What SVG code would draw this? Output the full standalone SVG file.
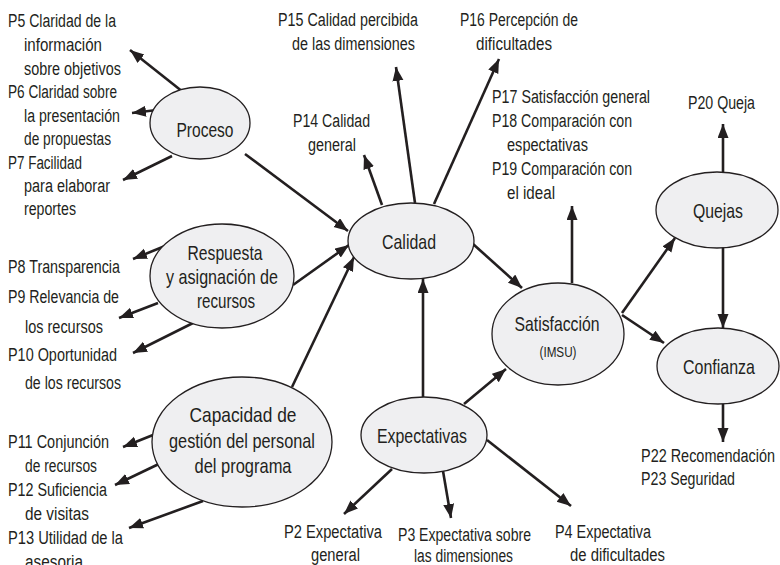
<svg xmlns="http://www.w3.org/2000/svg" width="780" height="565" viewBox="0 0 780 565">
<defs>
<marker id="ah" markerUnits="userSpaceOnUse" markerWidth="15" markerHeight="12" refX="14" refY="5.5" orient="auto">
<path d="M0,0 L14,5.5 L0,11 Z" fill="#231f20"/>
</marker>
<style>
.n ellipse{fill:#efeff1;stroke:#231f20;stroke-width:1.3}
.n text{font-family:"Liberation Sans",Arial,sans-serif;font-size:21px;fill:#231f20;text-anchor:middle}
.c line{stroke:#231f20;stroke-width:2.6;marker-end:url(#ah)}
.l{font-family:"Liberation Sans",Arial,sans-serif;font-size:18px;fill:#231f20}
</style>
</defs>
<rect width="780" height="565" fill="#fff"/>
<g class="c" id="connectors">
<line x1="183" y1="92" x2="130" y2="50"/>
<line x1="157" y1="110" x2="132" y2="113"/>
<line x1="172" y1="156" x2="123" y2="180"/>
<line x1="245" y1="154" x2="348" y2="231"/>
<line x1="165" y1="246" x2="133" y2="259"/>
<line x1="158" y1="303" x2="119" y2="318"/>
<line x1="193" y1="323" x2="133" y2="353"/>
<line x1="293" y1="285" x2="349" y2="245"/>
<line x1="292" y1="387" x2="354" y2="257"/>
<line x1="153" y1="435" x2="123" y2="447"/>
<line x1="163" y1="462" x2="115" y2="485"/>
<line x1="203" y1="501" x2="129" y2="528"/>
<line x1="382" y1="205" x2="364" y2="155"/>
<line x1="415" y1="203" x2="396" y2="67"/>
<line x1="434" y1="204" x2="499" y2="59"/>
<line x1="473" y1="244" x2="522" y2="288"/>
<line x1="423" y1="397" x2="423" y2="279"/>
<line x1="464" y1="404" x2="506" y2="369"/>
<line x1="392" y1="469" x2="344" y2="514"/>
<line x1="443" y1="471" x2="451" y2="518"/>
<line x1="487" y1="440" x2="571" y2="506"/>
<line x1="572" y1="283" x2="572" y2="206"/>
<line x1="622" y1="313" x2="675" y2="238"/>
<line x1="622" y1="315" x2="664" y2="343"/>
<line x1="723" y1="172" x2="723" y2="124"/>
<line x1="723" y1="247" x2="723" y2="328"/>
<line x1="723" y1="404" x2="723" y2="442"/>
</g>
<g class="n" id="proceso"><ellipse cx="200" cy="123" rx="50" ry="36"/><text x="205" y="137" textLength="57" lengthAdjust="spacingAndGlyphs">Proceso</text></g>
<g class="n" id="respuesta"><ellipse cx="222" cy="276" rx="72" ry="52"/><text x="225" y="260" textLength="75" lengthAdjust="spacingAndGlyphs">Respuesta</text><text x="222" y="284" textLength="112" lengthAdjust="spacingAndGlyphs">y asignación de</text><text x="226" y="308" textLength="58" lengthAdjust="spacingAndGlyphs">recursos</text></g>
<g class="n" id="capacidad"><ellipse cx="242" cy="442" rx="90" ry="65"/><text x="243" y="422" textLength="107" lengthAdjust="spacingAndGlyphs">Capacidad de</text><text x="242" y="448" textLength="146" lengthAdjust="spacingAndGlyphs">gestión del personal</text><text x="243" y="473" textLength="97" lengthAdjust="spacingAndGlyphs">del programa</text></g>
<g class="n" id="calidad"><ellipse cx="411" cy="241" rx="63" ry="38"/><text x="409" y="249" textLength="54" lengthAdjust="spacingAndGlyphs">Calidad</text></g>
<g class="n" id="expectativas"><ellipse cx="424" cy="435" rx="63" ry="38"/><text x="422" y="443" textLength="90" lengthAdjust="spacingAndGlyphs">Expectativas</text></g>
<g class="n" id="satisfaccion"><ellipse cx="558" cy="334" rx="66" ry="51"/><text x="557" y="331" textLength="85" lengthAdjust="spacingAndGlyphs">Satisfacción</text><text x="558" y="357" style="font-size:15px" textLength="37" lengthAdjust="spacingAndGlyphs">(IMSU)</text></g>
<g class="n" id="quejas"><ellipse cx="717" cy="210" rx="61" ry="38"/><text x="718" y="218" textLength="50" lengthAdjust="spacingAndGlyphs">Quejas</text></g>
<g class="n" id="confianza"><ellipse cx="718" cy="366" rx="61" ry="38"/><text x="719" y="374" textLength="72" lengthAdjust="spacingAndGlyphs">Confianza</text></g>
<g id="labels" class="l" xml:space="preserve">
<text x="8" y="27" textLength="108" lengthAdjust="spacingAndGlyphs">P5 Claridad de la</text>
<text x="24" y="51" textLength="78" lengthAdjust="spacingAndGlyphs">información</text>
<text x="24" y="75" textLength="97" lengthAdjust="spacingAndGlyphs">sobre objetivos</text>
<text x="8" y="98" textLength="109" lengthAdjust="spacingAndGlyphs">P6 Claridad sobre</text>
<text x="24" y="122" textLength="96" lengthAdjust="spacingAndGlyphs">la presentación</text>
<text x="24" y="145" textLength="87" lengthAdjust="spacingAndGlyphs">de propuestas</text>
<text x="8" y="169" textLength="74" lengthAdjust="spacingAndGlyphs">P7 Facilidad</text>
<text x="24" y="192" textLength="86" lengthAdjust="spacingAndGlyphs">para  elaborar</text>
<text x="24" y="215" textLength="52" lengthAdjust="spacingAndGlyphs">reportes</text>
<text x="278" y="26" textLength="140" lengthAdjust="spacingAndGlyphs">P15 Calidad percibida</text>
<text x="292" y="50" textLength="123" lengthAdjust="spacingAndGlyphs">de las dimensiones</text>
<text x="460" y="26" textLength="118" lengthAdjust="spacingAndGlyphs">P16 Percepción de</text>
<text x="476" y="50" textLength="76" lengthAdjust="spacingAndGlyphs">dificultades</text>
<text x="293" y="127" textLength="77" lengthAdjust="spacingAndGlyphs">P14 Calidad</text>
<text x="308" y="151" textLength="48" lengthAdjust="spacingAndGlyphs">general</text>
<text x="492" y="103" textLength="158" lengthAdjust="spacingAndGlyphs">P17 Satisfacción general</text>
<text x="492" y="127" textLength="140" lengthAdjust="spacingAndGlyphs">P18 Comparación con</text>
<text x="507" y="151" textLength="81" lengthAdjust="spacingAndGlyphs">espectativas</text>
<text x="492" y="175" textLength="140" lengthAdjust="spacingAndGlyphs">P19 Comparación con</text>
<text x="507" y="199" textLength="48" lengthAdjust="spacingAndGlyphs">el ideal</text>
<text x="688" y="109" textLength="67" lengthAdjust="spacingAndGlyphs">P20 Queja</text>
<text x="8" y="273" textLength="112" lengthAdjust="spacingAndGlyphs">P8 Transparencia</text>
<text x="8" y="303" textLength="111" lengthAdjust="spacingAndGlyphs">P9 Relevancia de</text>
<text x="25" y="333" textLength="78" lengthAdjust="spacingAndGlyphs">los recursos</text>
<text x="8" y="361" textLength="109" lengthAdjust="spacingAndGlyphs">P10 Oportunidad</text>
<text x="25" y="389" textLength="96" lengthAdjust="spacingAndGlyphs">de los recursos</text>
<text x="8" y="448" textLength="101" lengthAdjust="spacingAndGlyphs">P11 Conjunción</text>
<text x="25" y="472" textLength="72" lengthAdjust="spacingAndGlyphs">de recursos</text>
<text x="8" y="496" textLength="99" lengthAdjust="spacingAndGlyphs">P12 Suficiencia</text>
<text x="25" y="520" textLength="64" lengthAdjust="spacingAndGlyphs">de visitas</text>
<text x="8" y="544" textLength="115" lengthAdjust="spacingAndGlyphs">P13 Utilidad de la</text>
<text x="25" y="568" textLength="58" lengthAdjust="spacingAndGlyphs">asesoria</text>
<text x="284" y="538" textLength="98" lengthAdjust="spacingAndGlyphs">P2  Expectativa</text>
<text x="311" y="561" textLength="49" lengthAdjust="spacingAndGlyphs">general</text>
<text x="398" y="541" textLength="133" lengthAdjust="spacingAndGlyphs">P3 Expectativa sobre</text>
<text x="414" y="562" textLength="99" lengthAdjust="spacingAndGlyphs">las dimensiones</text>
<text x="555" y="538" textLength="96" lengthAdjust="spacingAndGlyphs">P4 Expectativa</text>
<text x="570" y="561" textLength="95" lengthAdjust="spacingAndGlyphs">de dificultades</text>
<text x="641" y="462" textLength="134" lengthAdjust="spacingAndGlyphs">P22  Recomendación</text>
<text x="641" y="485" textLength="94" lengthAdjust="spacingAndGlyphs">P23 Seguridad</text>
</g>
</svg>
